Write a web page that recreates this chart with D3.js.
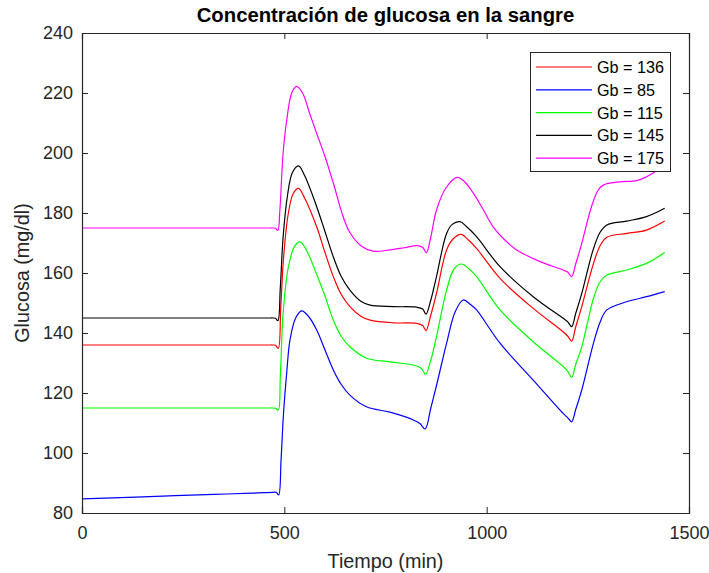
<!DOCTYPE html>
<html>
<head>
<meta charset="utf-8">
<script src="https://cdn.jsdelivr.net/npm/d3@7"></script>
<style>
  body { margin: 0; background: #fff; }
  text { font-family: "Liberation Sans", Arial, sans-serif; }
</style>
</head>
<body>
<svg id="grafica" width="709" height="573"></svg>
<script>
// etiquetas y ticks
var titulo = "Concentración de glucosa en la sangre";
var etiquetaX = "Tiempo (min)";
var etiquetaY = "Glucosa (mg/dl)";
var ticksX = [0, 500, 1000, 1500];
var ticksY = [80, 100, 120, 140, 160, 180, 200, 220, 240];

var nombres = ["Gb = 136", "Gb = 85", "Gb = 115", "Gb = 145", "Gb = 175"];
var colores = ["#ff0000", "#0000ff", "#00ff00", "#000000", "#ff00ff"];

// [tiempo, glucosa]
var gb136 = [[0,136],[240,136],[460,136],[472,136],[478,135.9],[485,134.9],[491,148],[498,165],[510,180],[522,186.5],[535,188.2],[550,185],
  [580,175.4],[600,167],[621,158.8],[640,153],[662,148.8],[690,145.5],[712,144.3],[770,143.4],[827,143.2],
  [842,142.5],[850,140.8],[862,146],[876,153.2],[901,167.7],[918,171.5],[937,172.9],[955,171],[975,168.2],
  [1033,158.2],[1115,148.2],[1189,140.4],[1200,139],[1210,137.3],[1220,142],[1235,148.8],[1264,163.2],
  [1280,169],[1297,171.9],[1346,173.2],[1395,174.3],[1440,177.3]];

var gb85 = [[0,84.7],[133,85.3],[230,85.8],[326,86.2],[420,86.6],[472,86.9],[480,86.9],[486,86],[492,98],[498,113.2],[506,127],
  [514,137.7],[528,145],[543,147.4],[560,145.5],[580,141],[600,134.5],[621,127.7],[640,123],[662,119.3],
  [703,115.4],[761,113.6],[819,111],[835,109.8],[848,108],[862,115],[876,122.5],[901,136.6],[922,147],
  [942,151],[960,149.5],[975,147.7],[1033,136.6],[1115,124.3],[1189,113.2],[1200,111.8],[1210,110.4],
  [1220,114.5],[1235,121],[1264,136.6],[1280,143.5],[1297,147.7],[1346,150.4],[1395,152.1],[1440,153.8]];

var gb115 = [[0,115],[240,115],[460,115],[472,115],[478,114.9],[485,114.3],[490,125],[497,146.6],[510,162],[525,168.8],[539,170.4],[555,167.5],
  [580,159.5],[600,152.5],[621,144.3],[640,139],[662,135.4],[703,131.6],[761,130.4],[827,129],[840,128],
  [849,126.2],[862,131],[876,138.8],[901,154.3],[920,161.5],[938,163],[955,161.5],[975,158.8],[1033,147.7],
  [1115,137.1],[1189,128.8],[1200,127.3],[1210,125.2],[1220,129.5],[1235,135.4],[1264,151.6],[1280,157],
  [1297,159.3],[1346,161],[1395,163.2],[1440,166.8]];

var gb145 = [[0,145],[240,145],[460,145],[472,145],[478,144.9],[484,144.1],[490,155],[497,172],[508,186],[520,193.5],[535,195.7],[550,192.5],
  [580,182.1],[600,174],[621,165.4],[640,159],[662,154.3],[690,150.5],[712,149.3],[769,148.8],[827,148.6],
  [842,148],[850,146.3],[862,151],[876,158.8],[901,173.2],[915,176.2],[934,177.1],[950,175.5],[975,172.1],
  [1033,162.1],[1115,152.1],[1189,144.9],[1200,143.8],[1210,142.1],[1220,146.5],[1235,153.2],[1263,167.7],
  [1280,173.5],[1297,176],[1346,177.3],[1395,178.8],[1440,181.6]];

var gb175 = [[0,175],[240,175],[460,175],[472,175],[478,174.9],[484,174.2],[489,181],[497,200],[506,211],[518,219.9],[530,222.2],[545,220],
  [563,213],[580,206.5],[600,199],[621,190],[646,178.5],[662,173.5],[690,169],[719,167.3],[761,167.7],
  [800,168.5],[827,169.1],[842,168.5],[851,166.8],[862,172],[876,181],[900,188.5],[927,191.9],[945,190.5],
  [967,186.6],[990,181.5],[1016,175.4],[1045,171],[1074,167.7],[1132,163.8],[1189,161],[1200,160.3],
  [1210,158.8],[1220,163],[1235,169.9],[1259,182.1],[1275,187.5],[1288,189.3],[1329,190.4],[1371,190.8],
  [1395,192.1],[1420,194.1],[1440,196.5]];

var series = [gb136, gb85, gb115, gb145, gb175];

function dibujarGrafica()
{
  var svg = d3.select("#grafica");
  var izq = 82, der = 689, arriba = 33, abajo = 513;
  var colorEje = "#262626";

  var x = d3.scaleLinear().domain([0, 1500]).range([izq, der]);
  var y = d3.scaleLinear().domain([80, 240]).range([abajo, arriba]);

  svg.append("clipPath").attr("id", "recorte")
      .append("rect")
      .attr("x", izq).attr("y", arriba)
      .attr("width", der - izq).attr("height", abajo - arriba);

  var linea = d3.line()
      .x(function(d) { return x(d[0]); })
      .y(function(d) { return y(d[1]); })
      .curve(d3.curveCatmullRom.alpha(0.5));

  svg.append("g").attr("clip-path", "url(#recorte)")
      .selectAll("path")
      .data(series)
      .enter().append("path")
      .attr("d", linea)
      .style("fill", "none")
      .style("stroke", function(d, i) { return colores[i]; })
      .style("stroke-width", "1.2px");

  // ejes con ticks hacia dentro, en los cuatro lados
  var fmt = d3.format("d");
  var ejeAbajo = svg.append("g").attr("transform", "translate(0," + abajo + ")")
      .call(d3.axisBottom(x).tickValues(ticksX).tickSize(-6).tickPadding(13).tickFormat(fmt));
  var ejeArriba = svg.append("g").attr("transform", "translate(0," + arriba + ")")
      .call(d3.axisTop(x).tickValues(ticksX).tickSize(-6).tickFormat(""));
  var ejeIzq = svg.append("g").attr("transform", "translate(" + izq + ",0)")
      .call(d3.axisLeft(y).tickValues(ticksY).tickSize(-6).tickPadding(9).tickFormat(fmt));
  var ejeDer = svg.append("g").attr("transform", "translate(" + der + ",0)")
      .call(d3.axisRight(y).tickValues(ticksY).tickSize(-6).tickFormat(""));

  [ejeAbajo, ejeArriba, ejeIzq, ejeDer].forEach(function(e) {
    e.select(".domain").attr("stroke", colorEje).attr("stroke-width", 1.2);
    e.selectAll(".tick line").attr("stroke", colorEje).attr("stroke-width", 1);
    e.selectAll(".tick text")
        .attr("fill", colorEje)
        .style("font-size", "18px")
        .style("font-family", "'Liberation Sans', Arial, sans-serif");
  });

  svg.append("text")
      .attr("x", (izq + der) / 2).attr("y", 22)
      .attr("text-anchor", "middle")
      .style("font-size", "20.3px").style("font-weight", "bold")
      .attr("fill", "#000")
      .text(titulo);

  svg.append("text")
      .attr("x", (izq + der) / 2).attr("y", 568)
      .attr("text-anchor", "middle")
      .style("font-size", "19.8px")
      .attr("fill", colorEje)
      .text(etiquetaX);

  svg.append("text")
      .attr("transform", "translate(29," + (arriba + abajo) / 2 + ") rotate(-90)")
      .attr("text-anchor", "middle")
      .style("font-size", "19.8px")
      .attr("fill", colorEje)
      .text(etiquetaY);

  // leyenda
  var ley = svg.append("g");
  ley.append("rect")
      .attr("x", 530.5).attr("y", 52.5)
      .attr("width", 140).attr("height", 119)
      .style("fill", "#fff")
      .style("stroke", colorEje)
      .style("stroke-width", "1px");

  var filas = ley.selectAll("g.fila")
      .data(nombres)
      .enter().append("g")
      .attr("class", "fila")
      .attr("transform", function(d, i) { return "translate(0," + (67 + i * 22.8) + ")"; });

  filas.append("line")
      .attr("x1", 536).attr("x2", 592)
      .attr("y1", 0).attr("y2", 0)
      .style("stroke", function(d, i) { return colores[i]; })
      .style("stroke-width", "1.2px");

  filas.append("text")
      .attr("x", 597).attr("y", 6)
      .style("font-size", "16.2px")
      .attr("fill", "#000")
      .text(function(d) { return d; });
}

dibujarGrafica();
</script>
</body>
</html>
